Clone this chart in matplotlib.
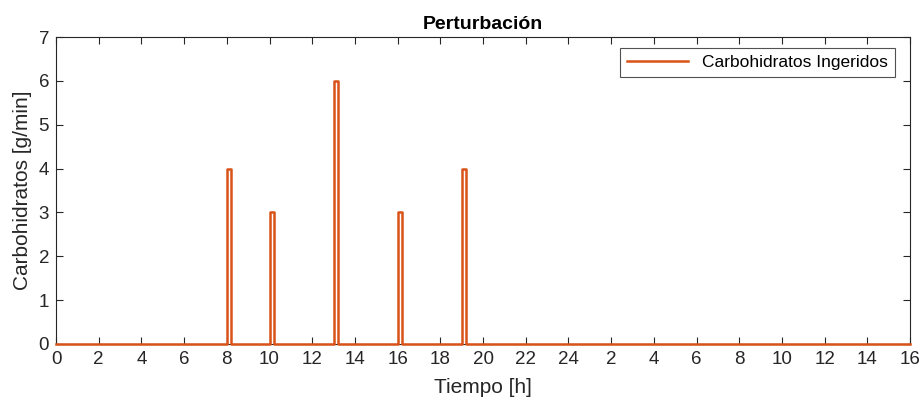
import matplotlib
matplotlib.use("Agg")
import matplotlib.pyplot as plt
import numpy as np

plt.rcParams['font.family'] = ['Liberation Sans', 'DejaVu Sans']

# Data
meal_times = [8, 10, 13, 16, 19]        # h
meal_rates = [4, 3, 6, 3, 4]            # g/min
meal_duration = 0.2                      # h
t_end = 40
tick_positions = list(range(0, 42, 2))
tick_labels = ['0', '2', '4', '6', '8', '10', '12', '14', '16', '18', '20', '22', '24',
               '2', '4', '6', '8', '10', '12', '14', '16']

# Build step signal
t = [0.0]
y = [0.0]
for tm, r in zip(meal_times, meal_rates):
    t += [tm, tm, tm + meal_duration, tm + meal_duration]
    y += [0, r, r, 0]
t.append(t_end)
y.append(0)

fig = plt.figure(figsize=(9.24, 4.04), dpi=100)
ax = fig.add_axes([56/924, 60/404, (910-56)/924, (344-37)/404])

ax.plot(t, y, color='#D95319', lw=1.8, label='Carbohidratos Ingeridos',
        zorder=5, clip_on=False)
ax.set_xlim(0, t_end)
ax.set_ylim(0, 7)
ax.set_xticks(tick_positions)
ax.set_xticklabels(tick_labels)
ax.set_yticks(range(0, 8))

axc = '#262626'
for s in ax.spines.values():
    s.set_color(axc)
    s.set_linewidth(0.8)
ax.tick_params(direction='in', length=5, width=0.8, colors=axc, labelsize=13.5,
               top=True, right=True, pad=5)
for lab in ax.get_xticklabels() + ax.get_yticklabels():
    lab.set_color('#262626')

ax.set_xlabel('Tiempo [h]', fontsize=15, color='#262626', labelpad=7)
ax.set_ylabel('Carbohidratos [g/min]', fontsize=15, color='#262626', labelpad=5)
ax.set_title('Perturbación', fontsize=14, fontweight='bold', color='black', pad=6)

leg = ax.legend(loc='upper right', fontsize=12.5, frameon=True, fancybox=False,
                edgecolor='#262626', handlelength=3.5, borderpad=0.4,
                borderaxespad=0, bbox_to_anchor=(0.982, 0.964))
leg.get_frame().set_linewidth(0.8)

fig.savefig('out.png', dpi=100)
